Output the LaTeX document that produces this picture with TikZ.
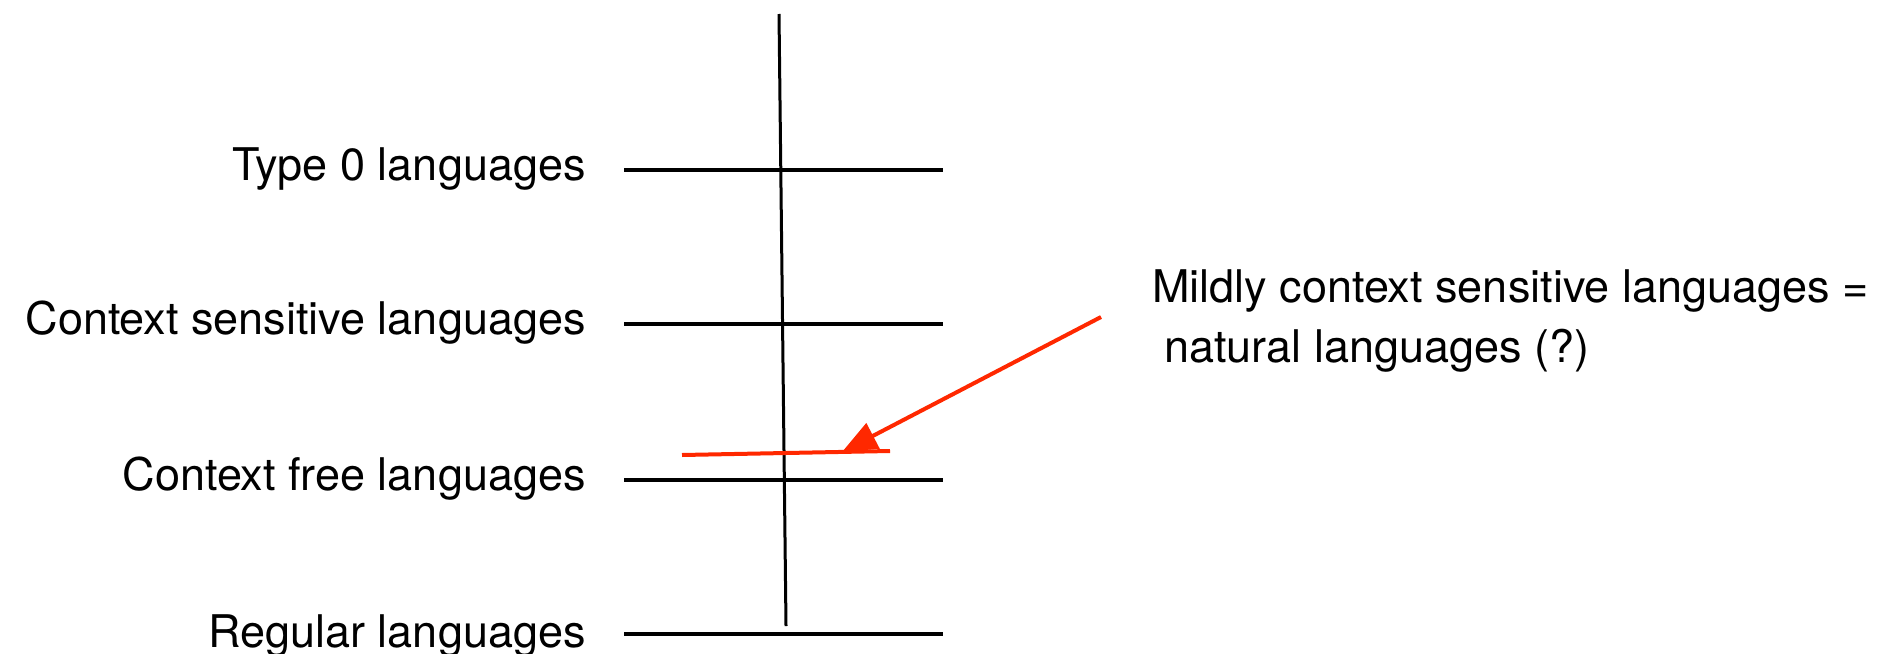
\documentclass[tikz,border=0pt]{standalone}
\usepackage{fontspec}
\setmainfont{TeX Gyre Heros}
\usetikzlibrary{arrows.meta}
\definecolor{arrowred}{RGB}{255,40,0}
\tikzset{
  lbl/.style={inner sep=0pt, font=\fontsize{22.5pt}{30pt}\selectfont},
  level/.style={line width=2pt, black},
  axis/.style={line width=1.5pt, black},
  redline/.style={line width=2pt, arrowred},
}
\begin{document}
\begin{tikzpicture}[x=0.5pt,y=-0.5pt]
\useasboundingbox (0,0) rectangle (1877,653);
% vertical axis
\coordinate (vt) at (779,14);
\coordinate (vb) at (786,626);
\draw[axis] (vt) -- (vb);
% level lines
\coordinate (l0a) at (624,170); \coordinate (l0b) at (943,170);
\coordinate (l1a) at (624,324); \coordinate (l1b) at (943,324);
\coordinate (l2a) at (624,480); \coordinate (l2b) at (943,480);
\coordinate (l3a) at (624,634); \coordinate (l3b) at (943,634);
\draw[level] (l0a) -- (l0b);
\draw[level] (l1a) -- (l1b);
\draw[level] (l2a) -- (l2b);
\draw[level] (l3a) -- (l3b);
% labels
\node[lbl, anchor=base east] (t0) at (586,180) {Type 0 languages};
\node[lbl, anchor=base east] (t1) at (586,334) {Context sensitive languages};
\node[lbl, anchor=base east] (t2) at (586,490) {Context free languages};
\node[lbl, anchor=base east] (t3) at (586,647) {Regular languages};
\node[lbl, anchor=base west] (m1) at (1152,302) {Mildly context sensitive languages =};
\node[lbl, anchor=base west] (m2) at (1164,362) {natural languages (?)};
% red line and arrow
\coordinate (ra) at (682,455);
\coordinate (rb) at (890,451);
\coordinate (rtip) at (842,452);
\coordinate (rstart) at (1101,317);
\draw[redline] (ra) -- (rb);
\draw[redline, -{Triangle[length=17.5pt,width=14pt]}] (rstart) -- (rtip);
\end{tikzpicture}
\end{document}
